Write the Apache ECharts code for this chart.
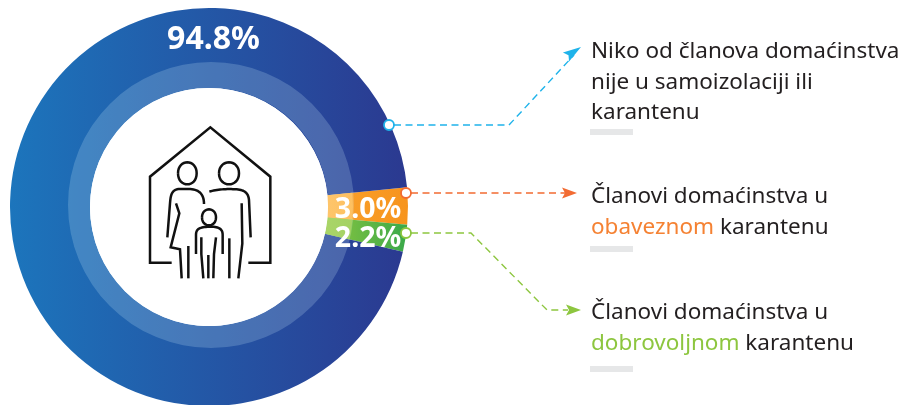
<!DOCTYPE html>
<html><head><meta charset="utf-8">
<style>html,body{margin:0;padding:0;background:#fff}#c{width:903px;height:405px}</style>
<script src="https://cdn.jsdelivr.net/npm/echarts@6/dist/echarts.min.js"></script>
</head><body><div id="c"></div>
<script>
const categories = ['Članovi domaćinstva u obaveznom karantenu','Članovi domaćinstva u dobrovoljnom karantenu','Niko od članova domaćinstva nije u samoizolaciji ili karantenu'];
const values = [3.0, 2.2, 94.8];
const sliceGradients = [['#f9a12b','#f7941d'],['#8dc63f','#39a94a'],['#1c75bc','#2b3990']];
const ringColors = [['#fec56b','#fdc060'],['#aad568','#a4d264'],null];
const legendLines = [
  ['Niko od članova domaćinstva','nije u samoizolaciji ili','karantenu'],
  ['Članovi domaćinstva u','{o|obaveznom} karantenu'],
  ['Članovi domaćinstva u','{g|dobrovoljnom} karantenu']
];
const FONT = '"Noto Sans",sans-serif';
const TEXT_SIZE = 22.5;
const cx = 209, cy = 207;
const chart = echarts.init(document.getElementById('c'), null, {renderer:'canvas'});
const grad = (a,b)=>({type:'linear',x:0,y:0,x2:1,y2:0,colorStops:[{offset:0,color:a},{offset:1,color:b}]});
const labelPos = [{x:368,y:210},{x:368,y:239},{x:213.5,y:40}];
const labelSizes = [28.5,28.5,32];

const gfx = [];
function line(points, color){
  gfx.push({type:'polyline',silent:true,z:5,shape:{points},style:{stroke:color,fill:null,lineWidth:1.4,lineDash:[7,4.5]}});
}
function arrow(tip, base, half, color){
  const dx=tip[0]-base[0],dy=tip[1]-base[1],l=Math.hypot(dx,dy),nx=-dy/l,ny=dx/l;
  gfx.push({type:'polygon',silent:true,z:6,shape:{points:[tip,[base[0]+nx*half,base[1]+ny*half],[base[0]+dx/l*3,base[1]+dy/l*3],[base[0]-nx*half,base[1]-ny*half]]},style:{fill:color}});
}
function dot(x,y,color){
  gfx.push({type:'circle',silent:true,z:7,shape:{cx:x,cy:y,r:5},style:{fill:'#fff',stroke:color,lineWidth:1.8}});
}
const BLUE='#1fb3ea',ORANGE='#f26b32',GREEN='#8dc63f';
line([[394,125],[509,125],[574,55]],BLUE); arrow([581,47],[566,57],5.5,BLUE); dot(389,125,BLUE);
line([[411,193],[565,193]],ORANGE); arrow([577,193],[562,193],5.5,ORANGE); dot(406,193,ORANGE);
line([[411,233],[471,233],[547,310],[568,310]],GREEN); arrow([581,310],[566,310],5.5,GREEN); dot(406,233,GREEN);

function text(x,y,t){
  const f='400 '+TEXT_SIZE+'px '+FONT;
  gfx.push({type:'text',silent:true,z:5,x,y,style:{text:t,font:f,fill:'#231f20',verticalAlign:'middle',
    rich:{o:{fill:'#f58233',font:f},g:{fill:'#8dc63f',font:f}}}});
}
function bar(y){ gfx.push({type:'rect',silent:true,z:5,shape:{x:590,y,width:43,height:6},style:{fill:'#e6e7e8'}}); }
legendLines[0].forEach((t,i)=>text(591,52+i*30.5,t)); bar(129);
legendLines[1].forEach((t,i)=>text(591,197+i*31,t)); bar(246);
legendLines[2].forEach((t,i)=>text(591,313+i*30.5,t)); bar(366);

// icon strokes; B = cubic curve control points, in 3x crop units
const iconStrokes = [
 [[125,458],[60,458],[60,200],[241,52],[421,200],[421,458],[355,458]],
 [[144,190],['B',144,146,200,146,200,190],['B',200,234,144,234,144,190]],
 [[267,190],['B',267,146,327,146,327,190],['B',327,234,267,234,267,190]],
 [[216,322],['B',216,290,258,290,258,322],['B',258,354,216,354,216,322]],
 [[222,282],['B',222,250,205,237,175,237],[150,237],['B',125,237,122,255,120,280],[112,382]],
 [[138,280],[148,310],[122,412],[150,418],[155,505]],
 [[175,408],[175,505]],
 [[238,245],['B',260,238,290,236,320,238],['B',345,240,355,250,357,270],[362,382]],
 [[335,280],[337,400],[325,505]],
 [[298,385],[298,505]],
 [[198,432],[198,375],['B',198,355,210,352,237,350],['B',265,350,278,355,278,375],[278,432]],
 [[214,382],[214,432],[220,505]],
 [[258,382],[252,432],[250,505]],
 [[235,435],[235,505]]
];
function flatten(stroke){
  const pts=[];
  stroke.forEach(s=>{
    if(s[0]==='B'){
      const p0=pts[pts.length-1];
      for(let k=1;k<=16;k++){const t=k/16,u=1-t;
        pts.push([u*u*u*p0[0]+3*u*u*t*s[1]+3*u*t*t*s[3]+t*t*t*s[5],u*u*u*p0[1]+3*u*u*t*s[2]+3*u*t*t*s[4]+t*t*t*s[6]]);}
    } else pts.push(s);
  });
  return pts;
}
gfx.push({type:'group',x:130,y:110,scaleX:1/3,scaleY:1/3,silent:true,children:iconStrokes.map(s=>({
  type:'polyline',z:8,shape:{points:flatten(s)},style:{fill:null,stroke:'#111',lineWidth:7.5,lineJoin:'miter'}
}))});

chart.setOption({
  animation:false,
  series:[
    {type:'pie',center:[cx,cy],radius:[119,199],startAngle:5.7,clockwise:true,silent:true,z:2,
     data:categories.map((name,i)=>({name,value:values[i],itemStyle:{color:grad(sliceGradients[i][0],sliceGradients[i][1])}})),
     label:{show:false},labelLine:{show:false}},
    {type:'pie',center:[211,205],radius:[117,143],silent:true,z:3,
     data:[{value:100,itemStyle:{color:'rgba(215,245,255,0.2)'}}],label:{show:false},labelLine:{show:false}},
    {type:'pie',center:[cx,cy],radius:[119,144],startAngle:5.7,silent:true,z:3.5,
     data:values.map((value,i)=>({value,itemStyle:{color:ringColors[i]?grad(ringColors[i][0],ringColors[i][1]):'rgba(0,0,0,0)'}})),
     label:{show:false},labelLine:{show:false}},
    {type:'pie',center:[cx,cy],radius:[0,119],silent:true,z:4,
     data:[{value:100,itemStyle:{color:'#fff'}}],label:{show:false},labelLine:{show:false}},
    {type:'pie',center:[cx,cy],radius:[119,199],startAngle:5.7,silent:true,z:4.5,
     data:categories.map((name,i)=>({name,value:values[i],itemStyle:{color:'rgba(0,0,0,0)'},label:{fontSize:labelSizes[i]}})),
     label:{show:true,position:'inside',formatter:p=>p.value.toFixed(1)+'%',color:'#fff',fontFamily:FONT,fontWeight:700},
     labelLine:{show:false},
     labelLayout:p=>({x:labelPos[p.dataIndex].x,y:labelPos[p.dataIndex].y,align:'center',verticalAlign:'middle',hideOverlap:false})
    }
  ],
  graphic:gfx
});
</script></body></html>
